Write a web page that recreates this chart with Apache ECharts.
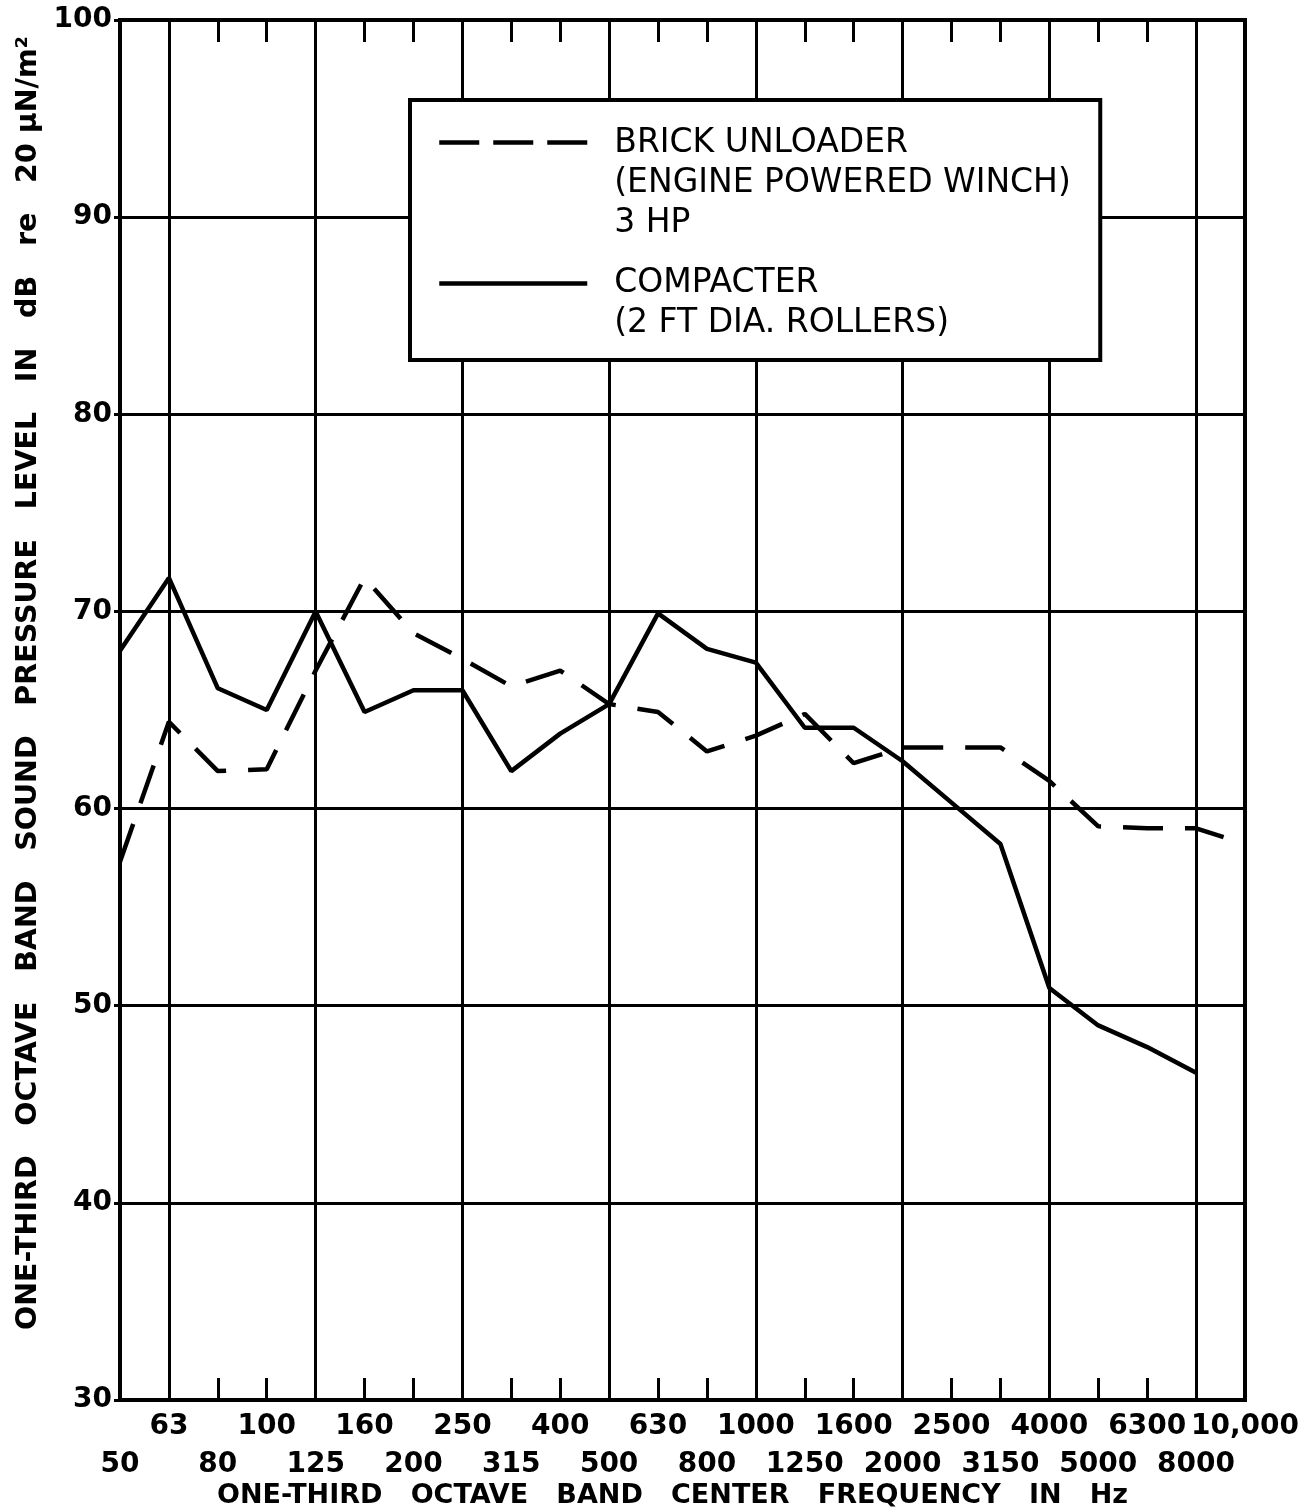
<!DOCTYPE html>
<html>
<head>
<meta charset="utf-8">
<script src="https://cdn.jsdelivr.net/npm/echarts@6/dist/echarts.min.js"></script>
<style>
  html, body { margin: 0; padding: 0; background: #fff; }
  #chart { width: 1302px; height: 1507px; }
</style>
</head>
<body>
<div id="chart"></div>
<script>
// one-third octave band centres (Hz), as printed under the axis
var bands = ["50", "63", "80", "100", "125", "160", "200", "250", "315", "400", "500", "630",
  "800", "1000", "1250", "1600", "2000", "2500", "3150", "4000", "5000", "6300", "8000", "10,000"];

// sound pressure level, dB re 20 uN/m^2
var brickUnloader = [57.3, 64.4, 61.9, 62.0, 67.0, 71.7, 68.9, 67.6, 66.2, 67.0, 65.3, 64.9,
  62.9, 63.7, 64.8, 62.3, 63.1, 63.1, 63.1, 61.4, 59.1, 59.0, 59.0, 58.2];
var compacter = [68.0, 71.7, 66.1, 65.0, 70.0, 64.9, 66.0, 66.0, 61.9, 63.8, 65.3, 69.9,
  68.1, 67.4, 64.1, 64.1, 62.4, 60.3, 58.2, 50.9, 49.0, 47.9, 46.6, null];

var brickName = "BRICK UNLOADER\n(ENGINE POWERED WINCH)\n3 HP";
var compacterName = "COMPACTER\n(2 FT DIA. ROLLERS)";

var font = "DejaVu Sans";
var legendFontSize = 33;

// legend box should reach x=1100 like the original, so measure the longest line
var ctx = document.createElement("canvas").getContext("2d");
ctx.font = legendFontSize + "px '" + font + "'";
var textW = 0;
(brickName + "\n" + compacterName).split("\n").forEach(function (l) {
  textW = Math.max(textW, ctx.measureText(l).width);
});
var legendPadRight = Math.max(10, 1098 - 612 - textW);

var chart = echarts.init(document.getElementById("chart"));

var option = {
  animation: false,
  backgroundColor: "#fff",
  grid: {
    left: 120,
    right: 57,
    top: 20,
    bottom: 107,
    outerBoundsMode: "none",
    containLabel: false,
    show: true,
    borderColor: "#000",
    borderWidth: 4,
    backgroundColor: "transparent"
  },
  legend: {
    orient: "vertical",
    left: 410,
    top: 100,
    itemWidth: 148,
    itemHeight: 14,
    itemGap: 27,
    selectedMode: false,
    backgroundColor: "#fff",
    borderColor: "#000",
    borderWidth: 4,
    padding: [27, legendPadRight, 20, 27],
    itemStyle: { color: "rgba(0,0,0,0)", borderWidth: 0, opacity: 0 },
    formatter: function (name) {
      return name.split("\n").map(function (l) { return "{t|" + l + "}"; }).join("\n");
    },
    textStyle: {
      fontFamily: font,
      fontSize: legendFontSize,
      color: "#000",
      padding: [0, 0, 0, 22],
      rich: {
        t: { fontFamily: font, fontSize: legendFontSize, color: "#000", lineHeight: 40 }
      }
    },
    data: [
      {
        name: brickName,
        lineStyle: { type: [40, 14], width: 4.5, color: "#000" },
        textStyle: { padding: [82, 0, 0, 22] }
      },
      {
        name: compacterName,
        lineStyle: { type: "solid", width: 4.5, color: "#000" },
        textStyle: { padding: [40, 0, 0, 22] }
      }
    ]
  },
  xAxis: [
    {
      type: "category",
      data: bands,
      boundaryGap: false,
      position: "bottom",
      name: "ONE-THIRD   OCTAVE   BAND   CENTER   FREQUENCY   IN   Hz",
      nameLocation: "middle",
      nameGap: 82,
      nameMoveOverlap: false,
      nameTextStyle: { fontFamily: font, fontSize: 27, fontWeight: "bold", color: "#000", padding: [0, 20, 0, 0] },
      axisLine: { show: false },
      axisTick: { show: true, inside: true, length: 22, interval: 0, lineStyle: { color: "#000", width: 3 } },
      axisLabel: {
        interval: 0,
        margin: 8,
        fontFamily: font,
        fontSize: 28,
        fontWeight: "bold",
        color: "#000",
        lineHeight: 38,
        formatter: function (v, i) {
          return i % 2 === 0 ? "\n" + v : v;
        }
      },
      splitLine: {
        show: true,
        interval: function (i) { return i % 3 === 1; },
        lineStyle: { color: "#000", width: 3 }
      }
    },
    {
      type: "category",
      data: bands,
      boundaryGap: false,
      position: "top",
      axisLine: { show: false },
      axisTick: { show: true, inside: true, length: 22, interval: 0, lineStyle: { color: "#000", width: 3 } },
      axisLabel: { show: false },
      splitLine: { show: false }
    }
  ],
  yAxis: {
    type: "value",
    min: 30,
    max: 100,
    interval: 10,
    name: "ONE-THIRD   OCTAVE   BAND   SOUND   PRESSURE   LEVEL   IN   dB   re   20 μN/m²",
    nameLocation: "middle",
    nameGap: 66,
    nameTextStyle: { fontFamily: font, fontSize: 28.5, fontWeight: "bold", color: "#000", padding: [0, 0, 0, 54] },
    axisLine: { show: false },
    axisTick: { show: true, length: 6, lineStyle: { color: "#000", width: 3 } },
    axisLabel: { margin: 8, fontFamily: font, fontSize: 28, fontWeight: "bold", color: "#000" },
    splitLine: { show: true, lineStyle: { color: "#000", width: 3 } }
  },
  series: [
    {
      name: brickName,
      type: "line",
      data: brickUnloader,
      symbol: "none",
      lineStyle: { color: "#000", width: 4.5, type: [40, 22] },
      itemStyle: { color: "#000" }
    },
    {
      name: compacterName,
      type: "line",
      data: compacter,
      symbol: "none",
      lineStyle: { color: "#000", width: 4.5, type: "solid" },
      itemStyle: { color: "#000" }
    }
  ]
};

chart.setOption(option);
</script>
</body>
</html>
